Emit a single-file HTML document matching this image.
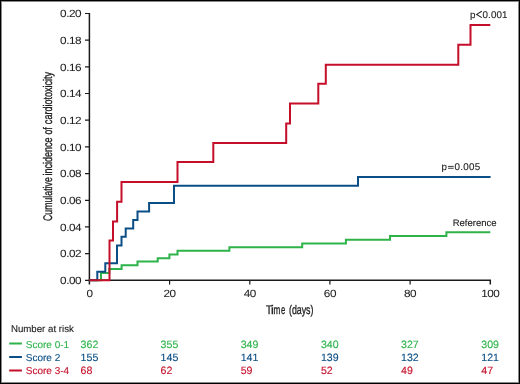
<!DOCTYPE html>
<html><head><meta charset="utf-8">
<style>
html,body{margin:0;padding:0;background:#fff;}
body{width:520px;height:384px;overflow:hidden;position:relative;font-family:"Liberation Sans",sans-serif;}
#frame{position:absolute;left:0;top:0;width:518px;height:382px;border:1px solid #000;box-shadow:inset 0 0 0 1px #888;}
svg{position:absolute;left:0;top:0;-webkit-font-smoothing:antialiased;will-change:transform;}
text{font-family:"Liberation Sans",sans-serif;text-rendering:geometricPrecision;}
</style></head>
<body>
<div id="frame"></div>
<svg width="520" height="384" viewBox="0 0 520 384">

<g stroke="#1a1a1a" stroke-width="1.5" fill="none">
<path d="M89.4 12.9V284.5"/>
<path d="M88.7 280.3H490.3V284.5"/>
<path d="M85 280.3H89.4M85 253.6H89.4M85 226.9H89.4M85 200.3H89.4M85 173.6H89.4M85 146.9H89.4M85 120.2H89.4M85 93.5H89.4M85 66.9H89.4M85 40.2H89.4M85 13.5H89.4" stroke-width="1.2"/>
<path d="M169.6 280.3V284.5M249.8 280.3V284.5M329.9 280.3V284.5M410.1 280.3V284.5" stroke-width="1.2"/>
</g>

<text transform="translate(81 284.0) scale(1.12 1)" font-size="10.5" fill="#222" text-anchor="end" letter-spacing="-0.45" stroke="#222" stroke-width="0.05">0.00</text>
<text transform="translate(81 257.3) scale(1.12 1)" font-size="10.5" fill="#222" text-anchor="end" letter-spacing="-0.45" stroke="#222" stroke-width="0.05">0.02</text>
<text transform="translate(81 230.6) scale(1.12 1)" font-size="10.5" fill="#222" text-anchor="end" letter-spacing="-0.45" stroke="#222" stroke-width="0.05">0.04</text>
<text transform="translate(81 204.0) scale(1.12 1)" font-size="10.5" fill="#222" text-anchor="end" letter-spacing="-0.45" stroke="#222" stroke-width="0.05">0.06</text>
<text transform="translate(81 177.3) scale(1.12 1)" font-size="10.5" fill="#222" text-anchor="end" letter-spacing="-0.45" stroke="#222" stroke-width="0.05">0.08</text>
<text transform="translate(81 150.6) scale(1.12 1)" font-size="10.5" fill="#222" text-anchor="end" letter-spacing="-0.45" stroke="#222" stroke-width="0.05">0.10</text>
<text transform="translate(81 123.9) scale(1.12 1)" font-size="10.5" fill="#222" text-anchor="end" letter-spacing="-0.45" stroke="#222" stroke-width="0.05">0.12</text>
<text transform="translate(81 97.2) scale(1.12 1)" font-size="10.5" fill="#222" text-anchor="end" letter-spacing="-0.45" stroke="#222" stroke-width="0.05">0.14</text>
<text transform="translate(81 70.6) scale(1.12 1)" font-size="10.5" fill="#222" text-anchor="end" letter-spacing="-0.45" stroke="#222" stroke-width="0.05">0.16</text>
<text transform="translate(81 43.9) scale(1.12 1)" font-size="10.5" fill="#222" text-anchor="end" letter-spacing="-0.45" stroke="#222" stroke-width="0.05">0.18</text>
<text transform="translate(81 17.2) scale(1.12 1)" font-size="10.5" fill="#222" text-anchor="end" letter-spacing="-0.45" stroke="#222" stroke-width="0.05">0.20</text>
<text transform="translate(89.4 296.5) scale(1.12 1)" font-size="10.5" fill="#222" text-anchor="middle" letter-spacing="-0.45" stroke="#222" stroke-width="0.05">0</text>
<text transform="translate(169.6 296.5) scale(1.12 1)" font-size="10.5" fill="#222" text-anchor="middle" letter-spacing="-0.45" stroke="#222" stroke-width="0.05">20</text>
<text transform="translate(249.8 296.5) scale(1.12 1)" font-size="10.5" fill="#222" text-anchor="middle" letter-spacing="-0.45" stroke="#222" stroke-width="0.05">40</text>
<text transform="translate(329.9 296.5) scale(1.12 1)" font-size="10.5" fill="#222" text-anchor="middle" letter-spacing="-0.45" stroke="#222" stroke-width="0.05">60</text>
<text transform="translate(410.1 296.5) scale(1.12 1)" font-size="10.5" fill="#222" text-anchor="middle" letter-spacing="-0.45" stroke="#222" stroke-width="0.05">80</text>
<text transform="translate(490.3 296.5) scale(1.12 1)" font-size="10.5" fill="#222" text-anchor="middle" letter-spacing="-0.45" stroke="#222" stroke-width="0.05">100</text>
<text font-size="12.5" fill="#1e1e1e" stroke="#1e1e1e" stroke-width="0.35" transform="translate(266.07 313.8) scale(0.8065 1)">T</text>
<text font-size="12.5" fill="#1e1e1e" stroke="#1e1e1e" stroke-width="0.35" transform="translate(271.06 313.8) scale(1.0012 1)">i</text>
<text font-size="12.5" fill="#1e1e1e" stroke="#1e1e1e" stroke-width="0.35" transform="translate(273.56 313.8) scale(0.6508 1)">m</text>
<text font-size="12.5" fill="#1e1e1e" stroke="#1e1e1e" stroke-width="0.35" transform="translate(280.97 313.8) scale(0.6138 1)">e</text>
<text font-size="12.5" fill="#1e1e1e" stroke="#1e1e1e" stroke-width="0.35" transform="translate(288.95 313.8) scale(0.7053 1)">(days)</text>
<text font-size="12.5" fill="#1e1e1e" stroke="#1e1e1e" stroke-width="0.35" transform="translate(51.5 221.05) rotate(-90) scale(0.7011 1)">Cumulative</text>
<text font-size="12.5" fill="#1e1e1e" stroke="#1e1e1e" stroke-width="0.35" transform="translate(51.5 175.60) rotate(-90) scale(0.7195 1)">incidence</text>
<text font-size="12.5" fill="#1e1e1e" stroke="#1e1e1e" stroke-width="0.35" transform="translate(51.5 134.57) rotate(-90) scale(0.6957 1)">of</text>
<text font-size="12.5" fill="#1e1e1e" stroke="#1e1e1e" stroke-width="0.35" transform="translate(51.5 124.13) rotate(-90) scale(0.7232 1)">cardiotoxicity</text>
<g fill="none" stroke-width="2" stroke-linejoin="miter" stroke-linecap="butt">
<path stroke="#2db34a" d="M89.4 280.3H101V272.9H109.3V268.9H121.6V265.2H137.5V261.6H157.7V258.3H169.4V254.5H177.5V250.8H229.4V247.2H302.2V243.4H345.9V239.7H390V236H446.4V232.3H490.3"/>
<path stroke="#0a4e85" d="M89.4 280.3H97.3V271.7H105.3V263.2H117V245.6H121.5V236.8H125.7V228.5H133.2V220.1H137.5V211.6H149.1V202.9H174V185.7H358V176.9H490.6"/>
<path stroke="#c50e29" d="M89.4 280.3H109.5V240.6H113V221.5H117.1V201.8H121.5V182.1H177.5V162H213.3V143H286.2V123.4H290V103.5H318.3V83.7H325.8V64.7H458.3V44.7H470.5V25H490.3"/>
</g>

<text x="470.07" y="18.2" font-size="9.8" fill="#222" text-anchor="start" stroke="#222" stroke-width="0.12">p</text>
<path d="M481.8 11.2L476.6 14.4L481.8 17.6" fill="none" stroke="#222" stroke-width="1.05"/>
<text x="482.62" y="18.2" font-size="9.8" fill="#222" text-anchor="start" letter-spacing="0.059" stroke="#222" stroke-width="0.12">0.001</text>
<text x="441.57" y="169.7" font-size="9.8" fill="#222" text-anchor="start" stroke="#222" stroke-width="0.12">p</text>
<path d="M448 166.4H453.7M448 168.25H453.7" fill="none" stroke="#333" stroke-width="0.95"/>
<text x="454.42" y="169.7" font-size="9.8" fill="#222" text-anchor="start" letter-spacing="0.293" stroke="#222" stroke-width="0.12">0.005</text>
<text x="452.7" y="226.3" font-size="9.5" fill="#222" text-anchor="start" stroke="#222" stroke-width="0.12">Reference</text>
<text x="10.9" y="331.8" font-size="9.7" fill="#222" text-anchor="start" stroke="#222" stroke-width="0.12">Number at risk</text>
<g stroke-width="2">
<path stroke="#2db34a" d="M9.2 343.5H21.9"/>
<path stroke="#0a4e85" d="M9.2 357H21.9"/>
<path stroke="#c50e29" d="M9.2 370.5H21.9"/>
</g>

<text x="25.8" y="347.5" font-size="10" fill="#2db34a" text-anchor="start" stroke="#2db34a" stroke-width="0.12">Score 0-1</text>
<text x="80.6" y="347.5" font-size="10.6" fill="#2db34a" text-anchor="start" stroke="#2db34a" stroke-width="0.12">362</text>
<text x="160.6" y="347.5" font-size="10.6" fill="#2db34a" text-anchor="start" stroke="#2db34a" stroke-width="0.12">355</text>
<text x="240.7" y="347.5" font-size="10.6" fill="#2db34a" text-anchor="start" stroke="#2db34a" stroke-width="0.12">349</text>
<text x="320.9" y="347.5" font-size="10.6" fill="#2db34a" text-anchor="start" stroke="#2db34a" stroke-width="0.12">340</text>
<text x="401" y="347.5" font-size="10.6" fill="#2db34a" text-anchor="start" stroke="#2db34a" stroke-width="0.12">327</text>
<text x="481.3" y="347.5" font-size="10.6" fill="#2db34a" text-anchor="start" stroke="#2db34a" stroke-width="0.12">309</text>
<text x="25.8" y="361" font-size="10" fill="#0a4e85" text-anchor="start" stroke="#0a4e85" stroke-width="0.12">Score 2</text>
<text x="80.6" y="361" font-size="10.6" fill="#0a4e85" text-anchor="start" stroke="#0a4e85" stroke-width="0.12">155</text>
<text x="160.6" y="361" font-size="10.6" fill="#0a4e85" text-anchor="start" stroke="#0a4e85" stroke-width="0.12">145</text>
<text x="240.7" y="361" font-size="10.6" fill="#0a4e85" text-anchor="start" stroke="#0a4e85" stroke-width="0.12">141</text>
<text x="320.9" y="361" font-size="10.6" fill="#0a4e85" text-anchor="start" stroke="#0a4e85" stroke-width="0.12">139</text>
<text x="401" y="361" font-size="10.6" fill="#0a4e85" text-anchor="start" stroke="#0a4e85" stroke-width="0.12">132</text>
<text x="481.3" y="361" font-size="10.6" fill="#0a4e85" text-anchor="start" stroke="#0a4e85" stroke-width="0.12">121</text>
<text x="25.8" y="374.4" font-size="10" fill="#c50e29" text-anchor="start" stroke="#c50e29" stroke-width="0.12">Score 3-4</text>
<text x="80.6" y="374.4" font-size="10.6" fill="#c50e29" text-anchor="start" stroke="#c50e29" stroke-width="0.12">68</text>
<text x="160.6" y="374.4" font-size="10.6" fill="#c50e29" text-anchor="start" stroke="#c50e29" stroke-width="0.12">62</text>
<text x="240.7" y="374.4" font-size="10.6" fill="#c50e29" text-anchor="start" stroke="#c50e29" stroke-width="0.12">59</text>
<text x="320.9" y="374.4" font-size="10.6" fill="#c50e29" text-anchor="start" stroke="#c50e29" stroke-width="0.12">52</text>
<text x="401" y="374.4" font-size="10.6" fill="#c50e29" text-anchor="start" stroke="#c50e29" stroke-width="0.12">49</text>
<text x="481.3" y="374.4" font-size="10.6" fill="#c50e29" text-anchor="start" stroke="#c50e29" stroke-width="0.12">47</text>
</svg>
</body></html>
